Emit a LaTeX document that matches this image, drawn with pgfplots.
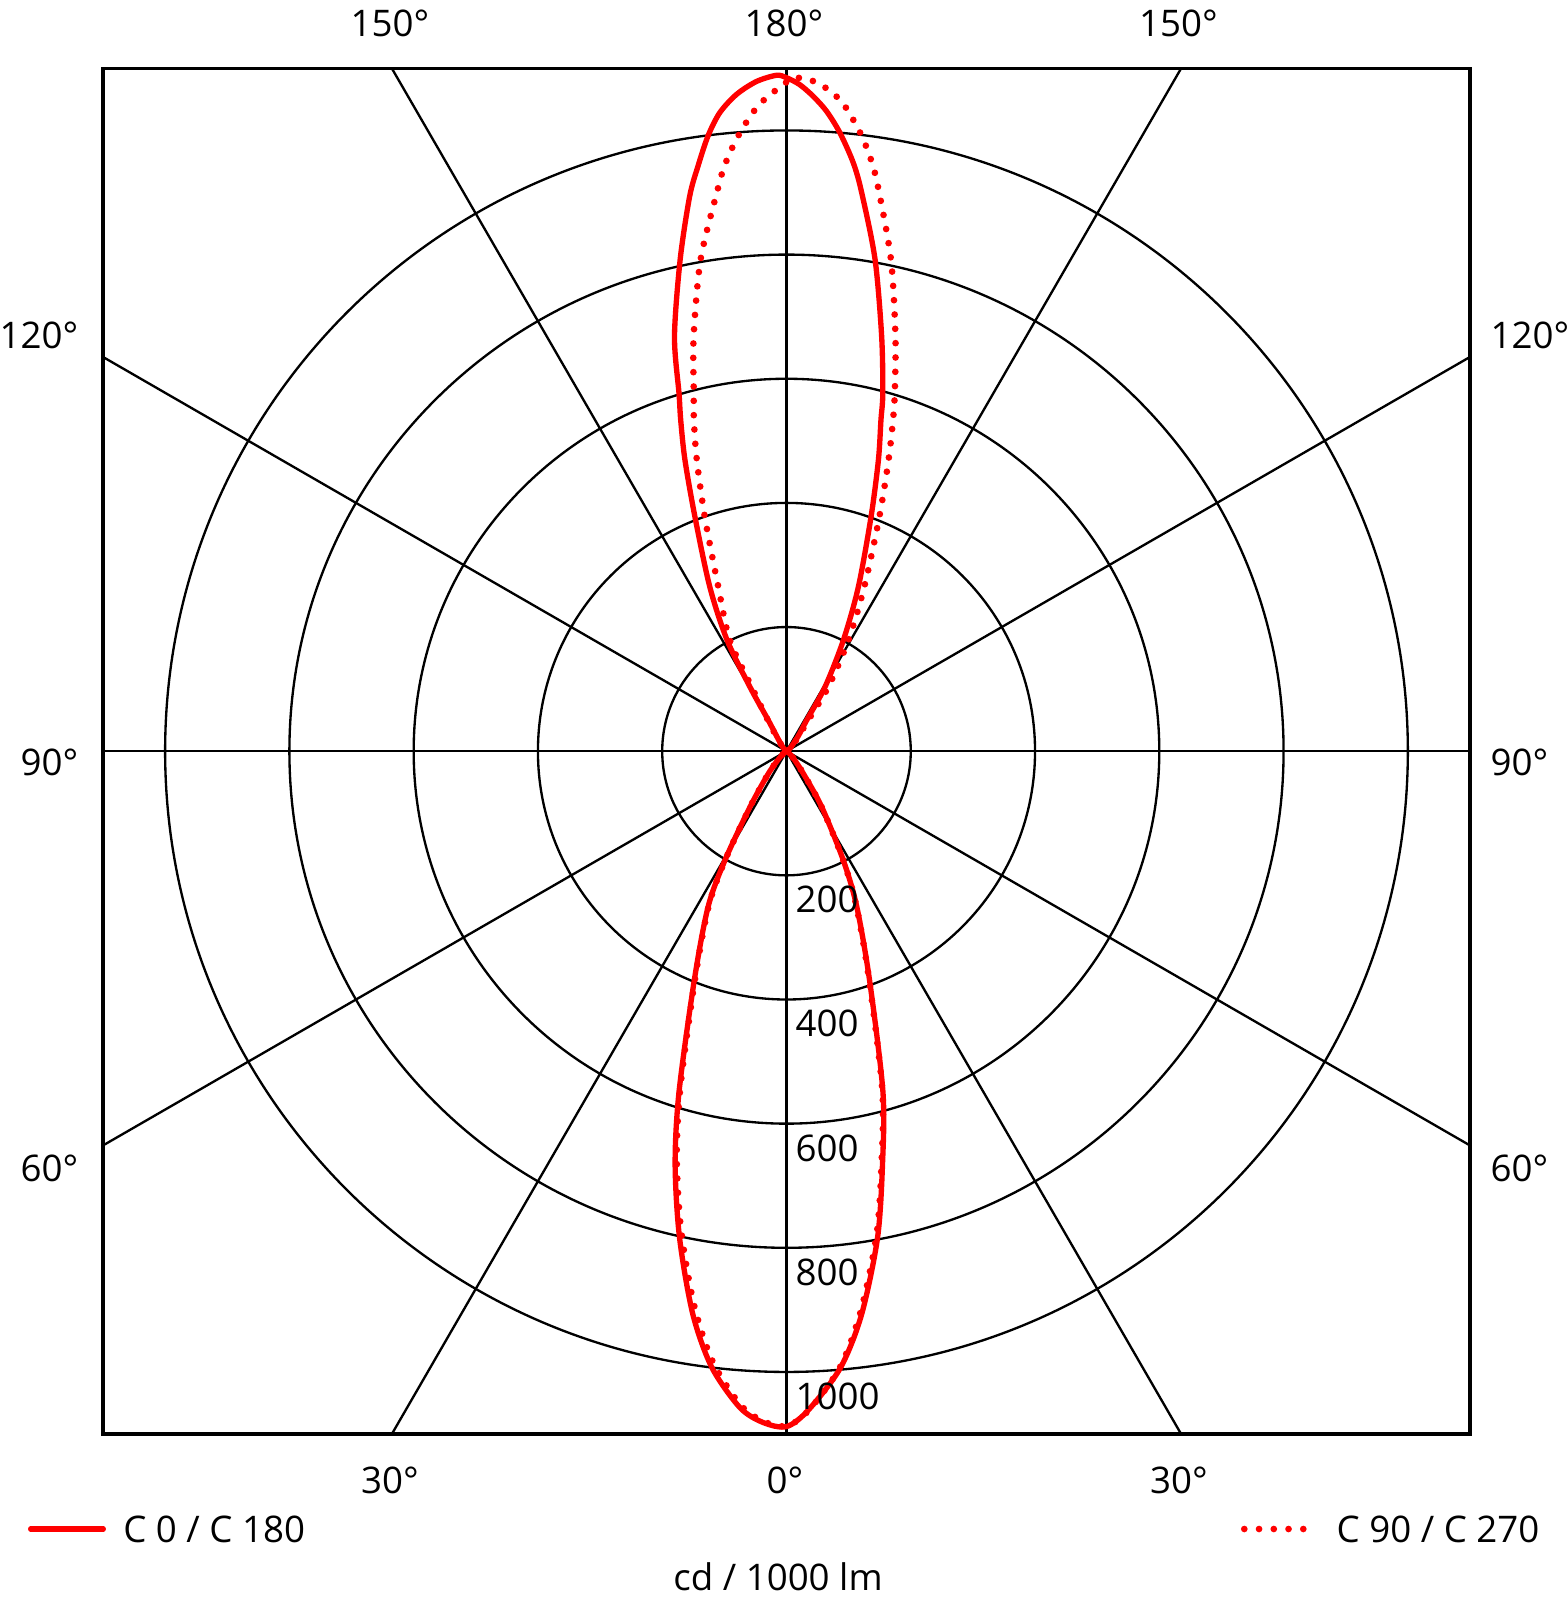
\documentclass[border=0pt]{standalone}
\usepackage{fontspec}
\setmainfont{Open Sans}
\usepackage{pgfplots}
\pgfplotsset{compat=1.18}
\usepackage{pgfplotstable}

% angle t: 0 = down (gamma 0), +-180 = up; positive t to the right
% each curve starts and ends at the centre
\pgfplotstableread{
t I
90 0
130 8
142 30
147 60
149.1 121
152.9 201
156.4 289
160.2 402
162.5 492
164.1 555
164.95 597
167.1 686
169.8 805
172.34 908
173.53 954
175.07 1000
176.42 1033
177.67 1056
178.86 1074
-180 1085
-179.15 1089
-177.43 1080
-175.64 1061
-174.03 1034
-172.73 999
-171.4 953
-170.1 907
-167.8 810
-164.9 692
-163.3 602
-162.3 560
-160.8 497
-158.7 406
-155 292
-151.9 203
-150.4 119
-149.6 58
-146 25
-135 7
-90 0
-55 5
-45 18
-39 46
-33.2 107
-29.4 202
-26.7 281
-21.9 398
-17.5 575
-15.1 688
-12.4 802
-9.45 919
-6.9 1000
-4.06 1060
-2 1082
0 1088
1.9 1062
5.0 997
7.6 915
10.6 797
13.1 682
15.8 570
19.9 393
24.3 275
27.5 198
32.3 106
37 45
45 15
55 4
90 0
}\cnull

\pgfplotstableread{
t I
90 0
115 2
130 9
140 28
145 61
147 124
150.9 205
154.7 293
158.4 406
160.7 497
162.2 561
163.2 603
165.3 691
168 809
170.75 919
171.8 960
173.05 999
174.5 1036
175.39 1054
176.4 1068
177.49 1079
178.58 1084
179.44 1085
-180 1078
-179.57 1071
-178.54 1058
-177.63 1043
-176.75 1025
-175.32 989
-173.98 949
-172.98 910
-170.1 804
-167.4 685
-165.5 596
-164.4 554
-162.9 491
-160.8 400
-157.5 287
-153 201
-151.6 118
-149 58
-145 26
-135 7
-90 0
-55 5
-45 18
-39 46
-33.2 106
-29.4 200
-26.7 278
-21.9 394
-17.5 568
-15.1 678
-12.4 790
-9.45 905
-6.9 990
-4.06 1055
-2 1080
0 1087
1.9 1063
5.0 995
7.6 908
10.6 790
13.1 676
15.8 566
19.9 390
24.3 273
27.5 197
32.3 105
37 45
45 15
55 4
90 0
}\cneunzig

\begin{document}
\begin{tikzpicture}[
  lbl/.style={font=\fontsize{11}{13}\selectfont, inner sep=0pt},
  grid/.style={black, line width=0.7pt}]
\path[use as bounding box] (-235.95pt,-254.94pt) rectangle (234.15pt,225.36pt);
\begin{axis}[at={(0pt,0pt)}, anchor=center,
  width=410.1pt, height=409.7pt, scale only axis,
  xmin=-1100, xmax=1100, ymin=-1100, ymax=1100,
  ticks=none, axis line style={line width=1.1pt},
  clip=false]
\pgfplotsinvokeforeach{200,400,600,800,1000}{
  \draw[grid] (axis cs:0,0) circle[radius=#1];
}
\draw[grid] (axis cs:-635.1,-1100) -- (axis cs:635.1,1100);
\draw[grid] (axis cs:635.1,-1100) -- (axis cs:-635.1,1100);
\draw[grid] (axis cs:-1100,-635.1) -- (axis cs:1100,635.1);
\draw[grid] (axis cs:1100,-635.1) -- (axis cs:-1100,635.1);
\draw[grid] (axis cs:0,-1100) -- (axis cs:0,1100);
\draw[grid] (axis cs:-1100,0) -- (axis cs:1100,0);

\addplot[red, line width=1.6pt, smooth, tension=0.5]
  table[x expr={\thisrow{I}*sin(\thisrow{t})}, y expr={-\thisrow{I}*cos(\thisrow{t})}] {\cnull};
\addplot[red, line width=2pt, smooth, tension=0.5, line cap=round,
  dash pattern=on 0pt off 4.3pt]
  table[x expr={\thisrow{I}*sin(\thisrow{t})}, y expr={-\thisrow{I}*cos(\thisrow{t})}] {\cneunzig};

\pgfplotsinvokeforeach{200,400,600,800,1000}{
  \node[lbl, anchor=west, xshift=2.55pt, yshift=-7.3pt] at (axis cs:0,-#1) {#1};
}
\end{axis}

% angle labels
\node[lbl, anchor=base] at (-118.95pt,214.3pt) {150°};
\node[lbl, anchor=base] at (-0.75pt,214.3pt) {180°};
\node[lbl, anchor=base] at (117.6pt,214.3pt) {150°};
\node[lbl, anchor=base] at (-118.95pt,-222.63pt) {30°};
\node[lbl, anchor=base] at (-0.45pt,-222.63pt) {0°};
\node[lbl, anchor=base] at (117.75pt,-222.63pt) {30°};
\node[lbl, anchor=base east] at (-212.25pt,120.87pt) {120°};
\node[lbl, anchor=base east] at (-212.25pt,-7.14pt) {90°};
\node[lbl, anchor=base east] at (-212.25pt,-129.15pt) {60°};
\node[lbl, anchor=base west] at (211.05pt,120.87pt) {120°};
\node[lbl, anchor=base west] at (211.05pt,-7.14pt) {90°};
\node[lbl, anchor=base west] at (211.05pt,-129.15pt) {60°};

% legend
\draw[red, line width=1.6pt, line cap=round] (-226.74pt,-233.34pt) -- (-204.96pt,-233.34pt);
\node[lbl, anchor=base west] at (-199.14pt,-237.45pt) {C 0 / C 180};
\draw[red, line width=2pt, line cap=round, dash pattern=on 0pt off 4.425pt]
  (137.34pt,-233.34pt) -- (155.3pt,-233.34pt);
\node[lbl, anchor=base west] at (164.85pt,-237.45pt) {C 90 / C 270};
\node[lbl, anchor=base] at (-2.55pt,-251.64pt) {cd / 1000 lm};
\end{tikzpicture}
\end{document}
